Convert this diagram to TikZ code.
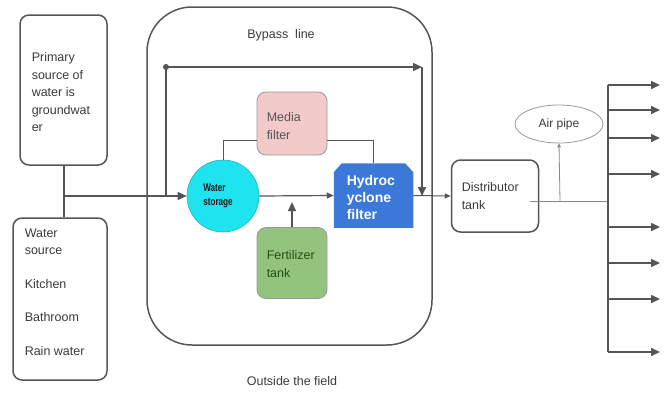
\documentclass[tikz,border=0pt]{standalone}
\usepackage{fontspec}
\setmainfont{Liberation Sans}
\usetikzlibrary{arrows.meta,shapes.geometric}
\definecolor{ln}{HTML}{555555}
\definecolor{txt}{HTML}{3A3A3A}
\definecolor{stor}{HTML}{1FE3EE}
\definecolor{pink}{HTML}{F2CACA}
\definecolor{green}{HTML}{93C47D}
\definecolor{dgreen}{HTML}{274E13}
\definecolor{blue}{HTML}{3C78D8}
\begin{document}
\begin{tikzpicture}[x=1pt,y=-1pt,line width=1.5pt,
  box/.style={draw=ln,rounded corners=9pt,inner sep=0pt},
  lbl/.style={text=txt,font=\fontsize{12.5}{17.5}\selectfont,align=left,anchor=north west,inner sep=0pt},
  arr/.style={draw=ln,-{Triangle[length=9pt,width=8pt]}},
  thinarr/.style={draw=ln!70,line width=0.8pt,-{Triangle[length=4pt,width=3.5pt]}}]
\useasboundingbox (0,0) rectangle (667,392);
% outer field box
\node[draw=ln,rounded corners=45pt,minimum width=285pt,minimum height=338pt,inner sep=0pt] (field) at (289.5,176) {};
\node[text=txt,font=\fontsize{12.5}{14}\selectfont] (bypass) at (281,35) {Bypass\ \ line};
\node[text=txt,font=\fontsize{12.5}{14}\selectfont] (outside) at (292,381) {Outside the field};
% left boxes
\node[box,minimum width=87pt,minimum height=150pt] (prim) at (63.5,90) {};
\node[lbl] (primt) at (31,52) {Primary\\source of\\water is\\groundwat\\er};
\node[box,minimum width=94pt,minimum height=162pt] (src) at (60,299) {};
\node[lbl] (srct) at (24,228) {Water\\source\\[16pt]Kitchen\\[16pt]Bathroom\\[16pt]Rain water};
% components
\node[circle,fill=stor,draw=stor!80!black,line width=0.6pt,minimum size=72pt,inner sep=0pt] (stor) at (223,196) {};
\node[inner sep=0pt,text=black!90,font=\fontsize{11}{14}\selectfont\bfseries,align=left] (stort) at (218,196)
  {\scalebox{0.74}[1]{Water}\\\scalebox{0.74}[1]{storage}};
\node[box,fill=pink,draw=ln!60,minimum width=70pt,minimum height=63pt,line width=0.8pt] (med) at (292,123.5) {};
\node[lbl,text=ln] (medt) at (266,112) {Media\\filter};
\node[box,fill=green,draw=ln!60,minimum width=70pt,minimum height=71pt,line width=0.8pt] (fert) at (292,263) {};
\node[lbl,text=dgreen] (fertt) at (266,250) {Fertilizer\\tank};
\node[minimum width=78pt,minimum height=63pt,inner sep=0pt] (hyd) at (373.5,195.5) {};
\fill[blue] (hyd.south west) -- ([yshift=-9pt]hyd.north west) -- ([xshift=8pt]hyd.north west)
  -- ([xshift=-8pt]hyd.north east) -- ([yshift=-9pt]hyd.north east) -- (hyd.south east) -- cycle;
\node[anchor=north west,inner sep=0pt,text=white,font=\fontsize{14}{17}\selectfont\bfseries,align=left] (hydt) at (346,175) {Hydroc\\yclone\\filter};
\node[box,minimum width=87pt,minimum height=72pt] (dist) at (495,196) {};
\node[lbl] (distt) at (461,182) {Distributor\\tank};
\node[ellipse,draw=ln!60,line width=0.8pt,minimum width=88pt,minimum height=38pt,inner sep=0pt,
  text=txt,font=\fontsize{12}{14}\selectfont] (air) at (559,124) {Air pipe};
% feed lines
\coordinate (j) at (64,196);
\draw[ln] (prim.south -| j) -- (src.north -| j);
\draw[arr] (j) -- (stor.west);
% bypass
\coordinate (b1) at (166,196);
\coordinate (b2) at (166,67);
\coordinate (b3) at (422,67);
\coordinate (b4) at (422,196);
\draw[ln] (b1) -- (b2);
\fill[ln] (b2) circle (3pt);
\draw[arr] (b2) -- (b3);
\draw[arr] (b3) -- (b4);
% main line
\draw[arr,line width=1.2pt,-{Triangle[length=7pt,width=6pt]}] (stor.east) -- (hyd.west);
\draw[ln,line width=1pt] (stor.north) |- ([yshift=-16.5pt]med.west);
\draw[ln,line width=1pt] ([yshift=-16.5pt]med.east) -| (hyd.north);
\draw[arr] (fert.north) -- ++(0,-25);
\draw[arr,-{Triangle[length=6pt,width=5pt]},line width=1pt] (hyd.east) -- (dist.west);
% distributor outlet
\coordinate (d1) at (530,201);
\coordinate (d2) at (560,201);
\coordinate (bus) at (608,201);
\draw[ln!70,line width=0.8pt] (d1) -- (bus);
\draw[thinarr] (d2) -- (air.south);
\coordinate (bt) at (608,85);
\coordinate (bb) at (608,352);
\draw[ln] (bt) -- (bb);
\foreach \yy/\nm in {85/o1,110/o2,138/o3,174/o4,227/o5,263/o6,299/o7,352/o8}{
  \coordinate (\nm s) at (608,\yy);
  \coordinate (\nm) at (660,\yy);
  \draw[arr] (\nm s) -- (\nm);
}
\end{tikzpicture}
\end{document}
